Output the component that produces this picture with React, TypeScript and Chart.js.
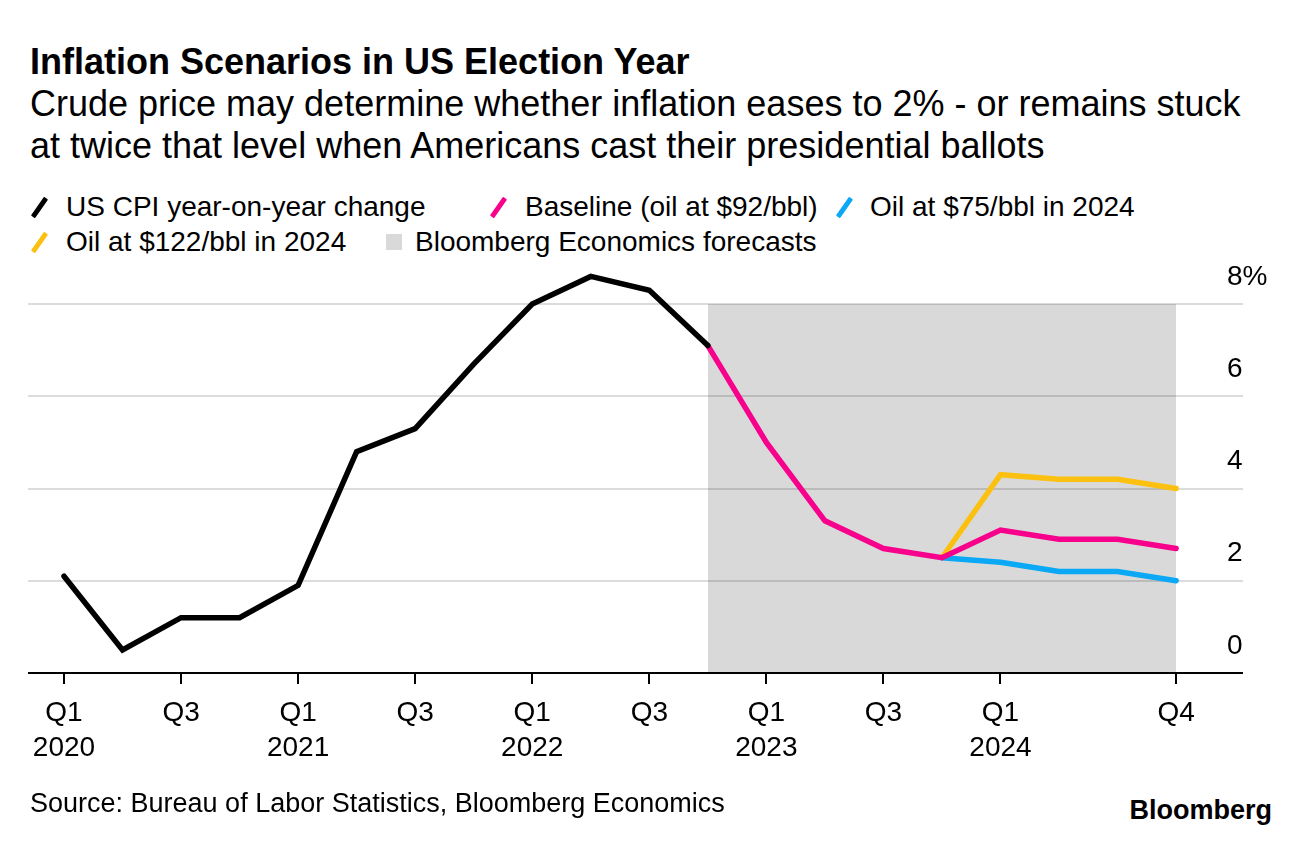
import React, { useEffect, useRef } from 'react';
import { Chart, registerables } from 'chart.js';

Chart.register(...registerables);

// ---------- data ----------
const QUARTERS = [
  'Q1 2020', 'Q2 2020', 'Q3 2020', 'Q4 2020',
  'Q1 2021', 'Q2 2021', 'Q3 2021', 'Q4 2021',
  'Q1 2022', 'Q2 2022', 'Q3 2022', 'Q4 2022',
  'Q1 2023', 'Q2 2023', 'Q3 2023', 'Q4 2023',
  'Q1 2024', 'Q2 2024', 'Q3 2024', 'Q4 2024',
];

// x-axis tick labels (quarter index -> label)
const X_TICK_INDEX = [0, 2, 4, 6, 8, 10, 12, 14, 16, 19];
const X_TICK_LABELS: (string | string[])[] = [
  ['Q1', '2020'], 'Q3', ['Q1', '2021'], 'Q3', ['Q1', '2022'], 'Q3',
  ['Q1', '2023'], 'Q3', ['Q1', '2024'], 'Q4',
];
const Y_TICKS = [0, 2, 4, 6, 8];

// US CPI year-on-year change, Q1 2020 .. Q4 2022
const CPI_START = 'Q1 2020';
const CPI = [2.1, 0.5, 1.2, 1.2, 1.9, 4.8, 5.3, 6.7, 8.0, 8.6, 8.3, 7.1];

// Baseline (oil at $92/bbl), Q4 2022 .. Q4 2024
const BASELINE_START = 'Q4 2022';
const BASELINE = [7.1, 5.0, 3.3, 2.7, 2.5, 3.1, 2.9, 2.9, 2.7];

// Oil scenarios, Q4 2023 .. Q4 2024
const SCENARIO_START = 'Q4 2023';
const OIL_75 = [2.5, 2.4, 2.2, 2.2, 2.0];
const OIL_122 = [2.5, 4.3, 4.2, 4.2, 4.0];

// Bloomberg Economics forecast period
const FORECAST_FROM = 'Q4 2022';
const FORECAST_TO = 'Q4 2024';
const FORECAST_TOP = 8;

// ---------- styles ----------
const FONT = "'Liberation Sans', Arial, Helvetica, sans-serif";
const C_BLACK = '#000000';
const C_PINK = '#f7008c';
const C_BLUE = '#0aa8f5';
const C_YELLOW = '#fcc010';
const C_SHADE = 'rgba(0,0,0,0.15)';
const C_GRID = '#dcdcdc';

const series = (start: string, values: number[]) => {
  const s = QUARTERS.indexOf(start);
  return values.map((v, i) => ({ x: s + i, y: v }));
};

const lineDs = (label: string, data: any[], color: string, order: number) => ({
  label,
  data,
  borderColor: color,
  backgroundColor: color,
  borderWidth: 5.5,
  borderCapStyle: 'round' as const,
  borderJoinStyle: 'miter' as const,
  pointRadius: 0,
  tension: 0,
  fill: false,
  order,
});

function ChartCanvas() {
  const ref = useRef<HTMLCanvasElement | null>(null);
  useEffect(() => {
    if (!ref.current) return;
    const fi = QUARTERS.indexOf(FORECAST_FROM);
    const ti = QUARTERS.indexOf(FORECAST_TO);
    const chart = new Chart(ref.current, {
      type: 'line',
      data: {
        datasets: [
          lineDs('US CPI year-on-year change', series(CPI_START, CPI), C_BLACK, 1),
          lineDs('Baseline (oil at $92/bbl)', series(BASELINE_START, BASELINE), C_PINK, 2),
          lineDs('Oil at $75/bbl in 2024', series(SCENARIO_START, OIL_75), C_BLUE, 3),
          lineDs('Oil at $122/bbl in 2024', series(SCENARIO_START, OIL_122), C_YELLOW, 4),
          {
            label: 'Bloomberg Economics forecasts',
            data: [
              { x: fi, y: FORECAST_TOP },
              { x: ti, y: FORECAST_TOP },
            ],
            borderWidth: 0,
            borderColor: 'rgba(0,0,0,0)',
            backgroundColor: C_SHADE,
            pointRadius: 0,
            fill: 'origin',
            order: 10,
          } as any,
        ],
      },
      options: {
        animation: false,
        responsive: false,
        maintainAspectRatio: false,
        events: [],
        layout: { padding: { left: 28, top: 8, right: 0, bottom: 0 } },
        plugins: {
          legend: { display: false },
          tooltip: { enabled: false },
        },
        scales: {
          x: {
            type: 'linear',
            min: -0.615,
            max: 19.87,
            border: { display: false },
            grid: {
              drawOnChartArea: false,
              drawTicks: true,
              tickLength: 11,
              color: C_BLACK,
              lineWidth: 2,
            },
            ticks: {
              autoSkip: false,
              maxRotation: 0,
              minRotation: 0,
              padding: 11,
              color: C_BLACK,
              font: { family: FONT, size: 28, lineHeight: 1.28 },
              callback: (v: any) => {
                const k = X_TICK_INDEX.indexOf(Number(v));
                return k >= 0 ? X_TICK_LABELS[k] : '';
              },
            },
            afterBuildTicks: (s: any) => {
              s.ticks = X_TICK_INDEX.map((v) => ({ value: v }));
            },
            afterFit: (s: any) => {
              s.height = 117;
            },
          },
          y: {
            type: 'linear',
            position: 'right',
            min: 0,
            max: 9,
            border: { display: false },
            grid: {
              drawTicks: true,
              tickLength: 16,
              color: (c: any) => (c.tick && c.tick.value === 0 ? C_BLACK : C_GRID),
              lineWidth: 2,
            },
            ticks: {
              padding: -16,
              labelOffset: -27,
              crossAlign: 'near',
              color: C_BLACK,
              font: { family: FONT, size: 28 },
              callback: (v: any) => (Number(v) === 8 ? '8%' : String(v)),
            },
            afterBuildTicks: (s: any) => {
              s.ticks = Y_TICKS.map((v) => ({ value: v }));
            },
            afterFit: (s: any) => {
              s.width = 69;
            },
          },
        },
      } as any,
    });
    return () => chart.destroy();
  }, []);
  return (
    <canvas
      ref={ref}
      width={1296}
      height={540}
      style={{ position: 'absolute', left: 0, top: 250, width: 1296, height: 540 }}
    />
  );
}

const Stroke = ({ color, left, top }: { color: string; left: number; top: number }) => (
  <div
    style={{
      position: 'absolute',
      left,
      top,
      width: 5,
      height: 23,
      background: color,
      transform: 'rotate(35deg)',
      borderRadius: 1,
    }}
  />
);

const LegendText = ({ text, left, top }: { text: string; left: number; top: number }) => (
  <div
    style={{
      position: 'absolute',
      left,
      top,
      fontSize: 28,
      lineHeight: '28px',
      whiteSpace: 'nowrap',
      color: '#000',
    }}
  >
    {text}
  </div>
);

export default function App() {
  return (
    <div
      style={{
        position: 'fixed',
        left: 0,
        top: 0,
        width: 1296,
        height: 844,
        background: '#fff',
        fontFamily: FONT,
        color: '#000',
        overflow: 'hidden',
      }}
    >
      <div
        style={{
          position: 'absolute',
          left: 30,
          top: 44,
          fontSize: 36,
          lineHeight: '36px',
          fontWeight: 700,
          whiteSpace: 'nowrap',
        }}
      >
        Inflation Scenarios in US Election Year
      </div>
      <div
        style={{
          position: 'absolute',
          left: 30,
          top: 83,
          fontSize: 36,
          lineHeight: '42px',
          whiteSpace: 'nowrap',
        }}
      >
        Crude price may determine whether inflation eases to 2% - or remains stuck
        <br />
        at twice that level when Americans cast their presidential ballots
      </div>

      {/* legend */}
      <Stroke color={C_BLACK} left={37} top={196} />
      <LegendText text="US CPI year-on-year change" left={66} top={193} />
      <Stroke color={C_PINK} left={496} top={196} />
      <LegendText text="Baseline (oil at $92/bbl)" left={525} top={193} />
      <Stroke color={C_BLUE} left={842} top={196} />
      <LegendText text="Oil at $75/bbl in 2024" left={870} top={193} />
      <Stroke color={C_YELLOW} left={37} top={231} />
      <LegendText text="Oil at $122/bbl in 2024" left={66} top={228} />
      <div
        style={{
          position: 'absolute',
          left: 386,
          top: 234,
          width: 16,
          height: 16,
          background: '#d9d9d9',
        }}
      />
      <LegendText text="Bloomberg Economics forecasts" left={415} top={228} />

      <ChartCanvas />

      <div
        style={{
          position: 'absolute',
          left: 30,
          top: 790,
          fontSize: 27,
          lineHeight: '27px',
          whiteSpace: 'nowrap',
        }}
      >
        Source: Bureau of Labor Statistics, Bloomberg Economics
      </div>
      <div
        style={{
          position: 'absolute',
          right: 24,
          top: 797,
          fontSize: 27,
          lineHeight: '27px',
          fontWeight: 700,
          whiteSpace: 'nowrap',
        }}
      >
        Bloomberg
      </div>
    </div>
  );
}
